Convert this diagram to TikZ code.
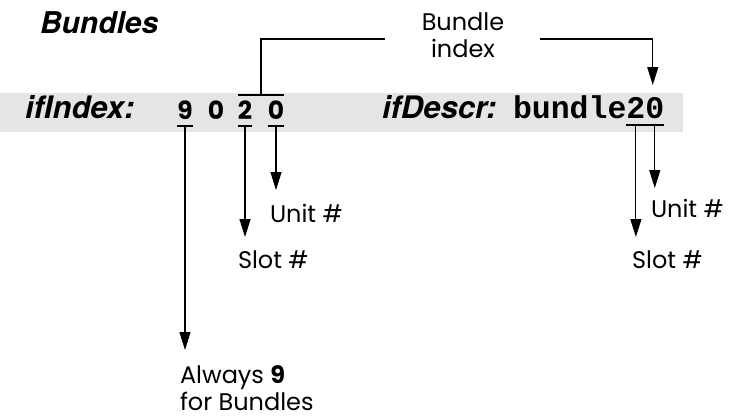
\documentclass[tikz,border=0pt]{standalone}
\usepackage{fontspec}
\setmainfont{Poppins}
\newfontfamily\hfont{TeX Gyre Heros}
\newfontfamily\mfont{Liberation Mono}
\usetikzlibrary{arrows.meta,calc}
\tikzset{
  head/.style={inner sep=0pt, outer sep=0pt, font=\hfont\bfseries\itshape\fontsize{31bp}{34bp}\selectfont},
  dig/.style={inner sep=0pt, outer sep=0pt, font=\bfseries\fontsize{25bp}{30bp}\selectfont},
  mono/.style={inner sep=0pt, outer sep=0pt, font=\mfont\bfseries\fontsize{31.5bp}{36bp}\selectfont},
  lab/.style={inner sep=0pt, outer sep=0pt, font=\fontsize{24bp}{27bp}\selectfont, align=left},
  ln/.style={line width=1.2bp},
  arr/.style={ln, -{Triangle[length=18bp,width=11bp]}},
  band/.style={fill=gray!20, draw=none}
}
\newcommand\tickarrow[2]{%
  \draw[ln] ($(#1.base west)+(0,7)$) -- ($(#1.base east)+(0,7)$);
  \coordinate (#1u) at ($(#1.base)+(0,7)$);
  \coordinate (#1t) at (#1u |- 0,#2);
  \draw[arr] (#1u) -- (#1t);
}
\begin{document}
\begin{tikzpicture}[x=1bp,y=-1bp]
\useasboundingbox (0,0) rectangle (729,419);
\fill[band] (0,93) rectangle (683,132);
\node[head, font=\hfont\bfseries\itshape\fontsize{30bp}{34bp}\selectfont, anchor=base west] (title) at (40,33) {Bundles};
\node[head, anchor=base west] (ifi) at (25,118) {ifIndex:};
\node[dig, anchor=base] (d9) at (185,119) {9};
\node[dig, anchor=base] (d0a) at (216,119) {0};
\node[dig, anchor=base] (d2) at (245,119) {2};
\node[dig, anchor=base] (d0b) at (276,119) {0};
\node[head, anchor=base west] (ifd) at (382,118) {ifDescr:};
\node[mono, anchor=base west] (bdl) at (513,118) {bundle};
\node[mono, anchor=base west] (m2) at (bdl.base east) {2};
\node[mono, anchor=base west] (m0) at (m2.base east) {0};
\node[lab, align=center, anchor=north] (bi) at (463,13) {Bundle\\index};
\node[lab, anchor=base west] (unit1) at (270,222) {Unit \#};
\node[lab, anchor=base west] (slot1) at (238,268) {Slot \#};
\node[lab, anchor=base west] (unit2) at (651,217) {Unit \#};
\node[lab, anchor=base west] (slot2) at (632,268) {Slot \#};
\node[lab, anchor=north west] (alw) at (180,366) {Always {\bfseries 9}\\for Bundles};
% overline over "2 0"
\coordinate (ovl) at ($(d2.base west)+(0,-24)$);
\coordinate (ovr) at ($(d0b.base east)+(0,-24)$);
\draw[ln] (ovl) -- (ovr);
\coordinate (ovc) at ($(ovl)!0.5!(ovr)$);
\coordinate (bil) at (385,39);
\coordinate (bir) at (540,39);
\draw[ln] (ovc) |- (bil);
\coordinate (mtop) at ($(m0.base)+(-2,-33)$);
\draw[arr] (bir) -| (mtop);
% ticks and arrows
\tickarrow{d9}{350}
\tickarrow{d2}{237}
\tickarrow{d0b}{190}
\tickarrow{m2}{237}
\tickarrow{m0}{188}
\end{tikzpicture}
\end{document}
